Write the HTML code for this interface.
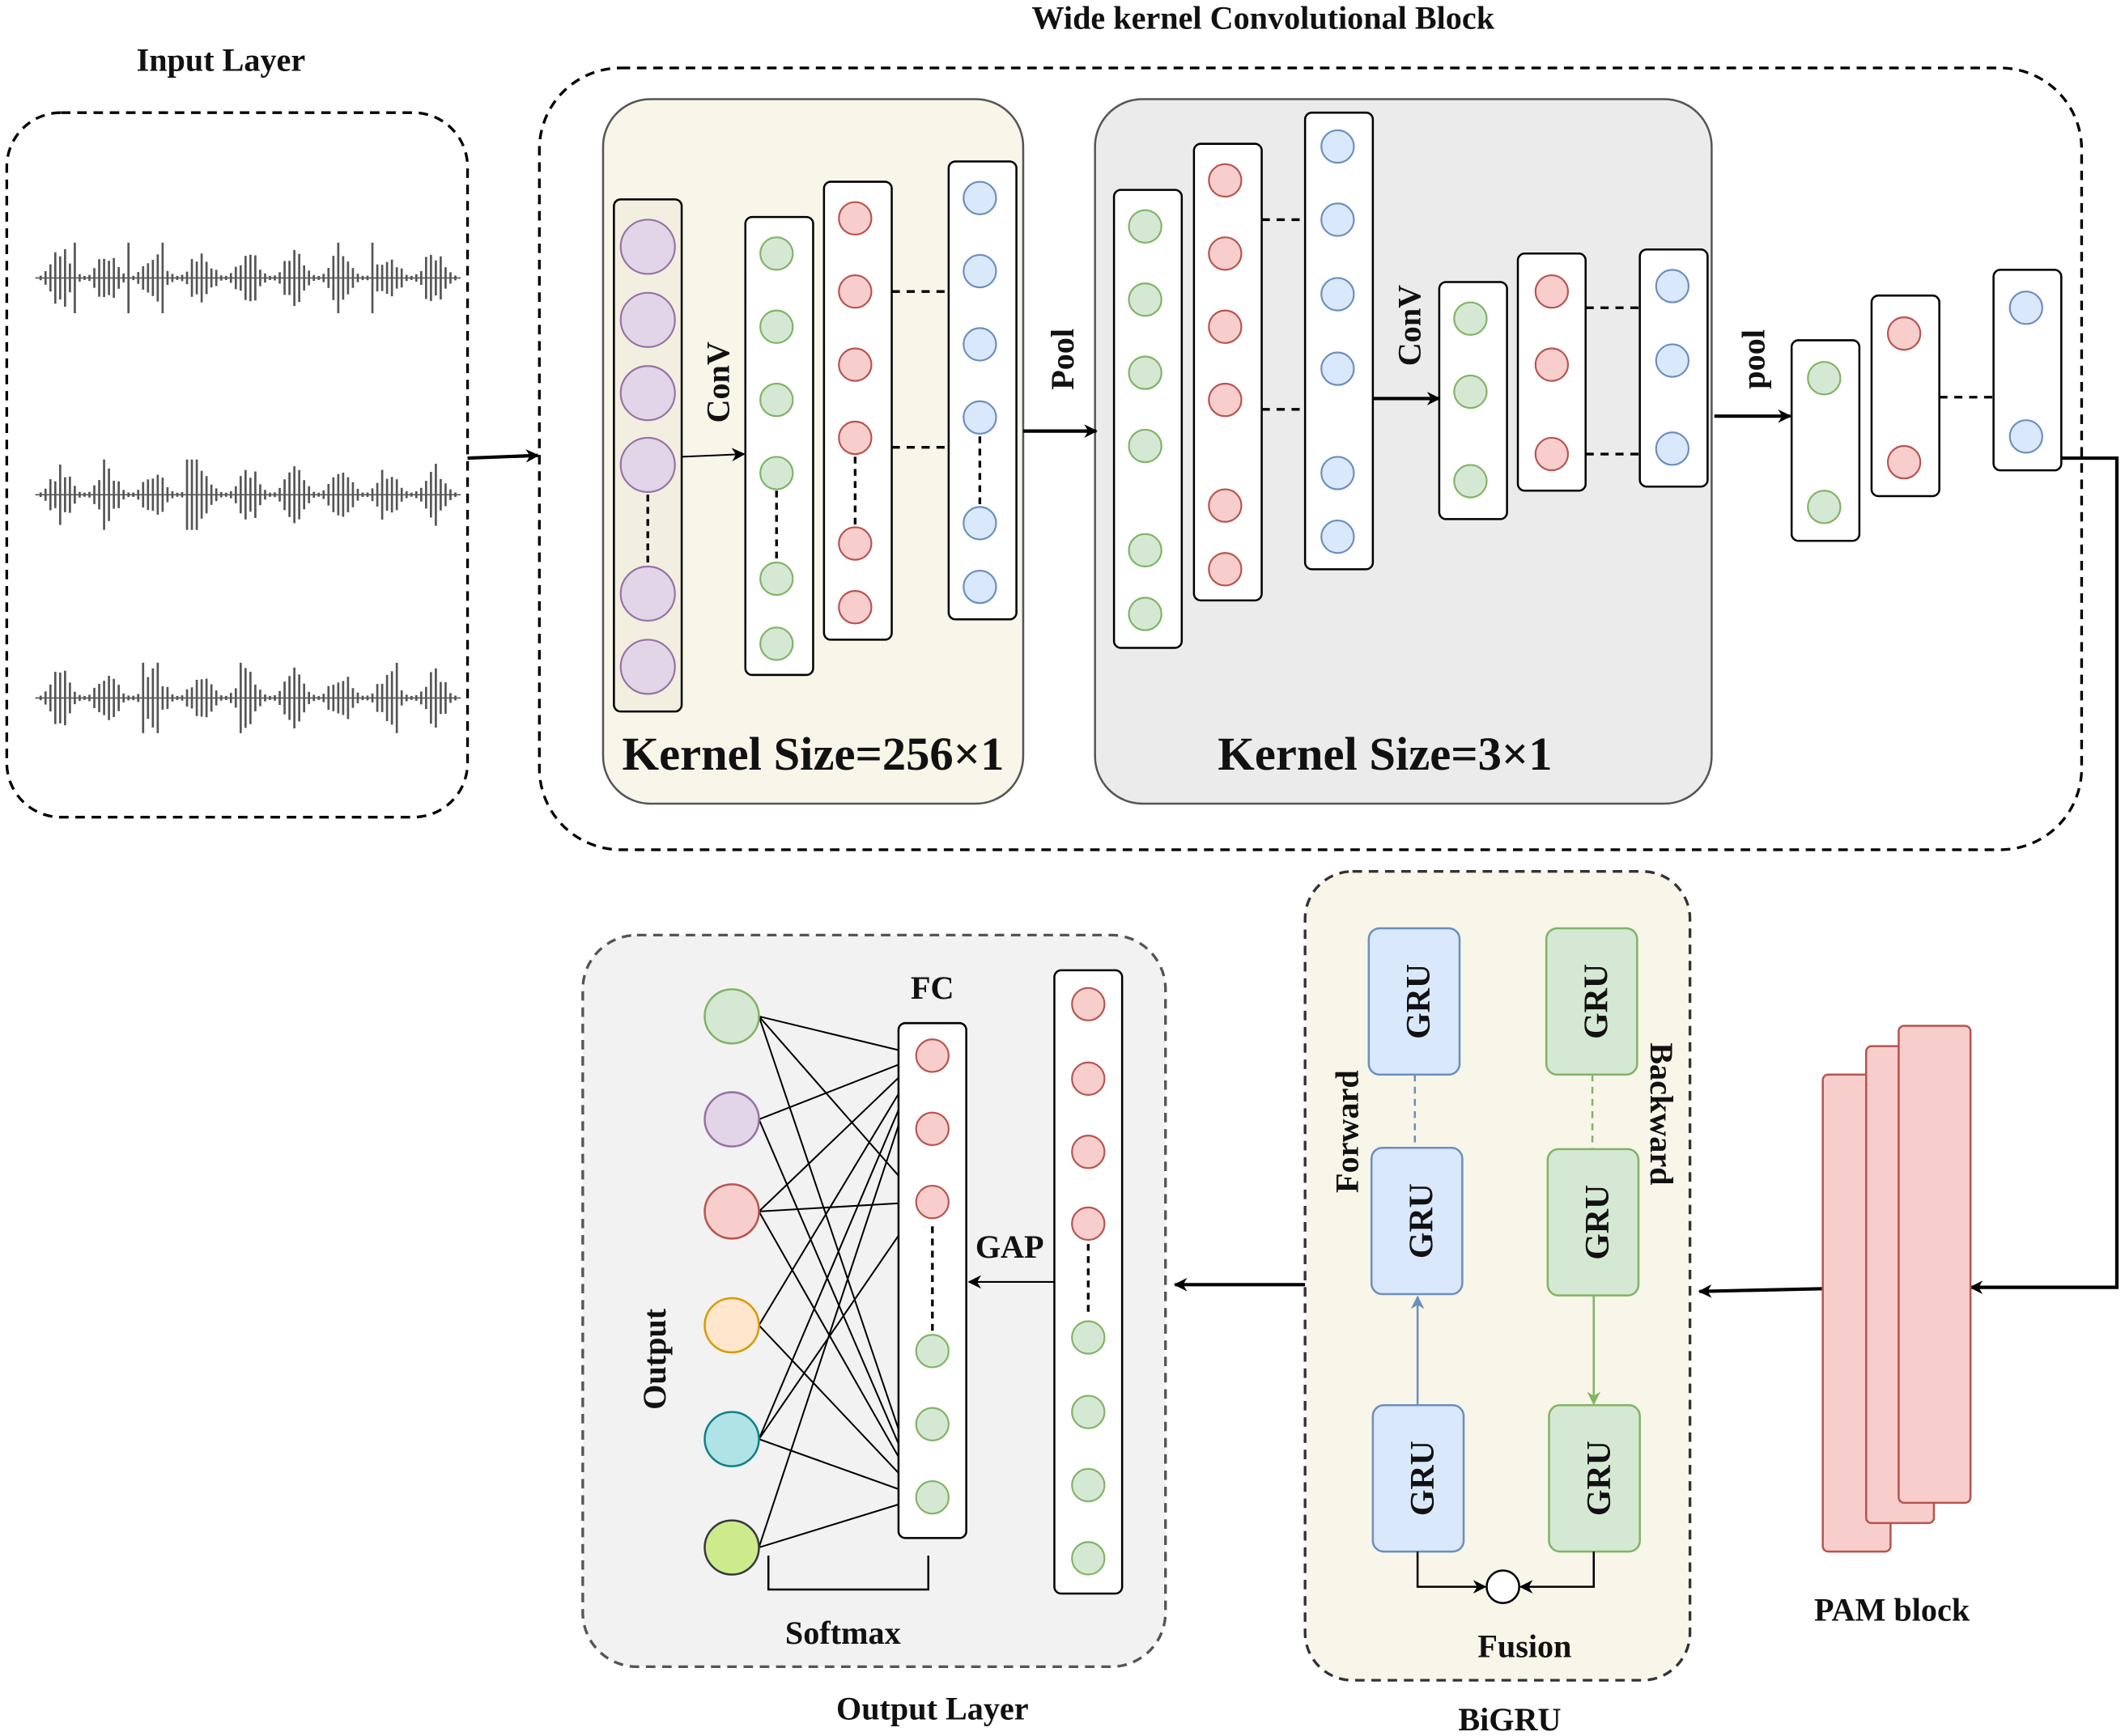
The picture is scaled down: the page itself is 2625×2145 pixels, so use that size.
<!DOCTYPE html>
<html><head><meta charset="utf-8"><style>
html,body{margin:0;padding:0;background:#fff;}
svg{display:block;}
text{font-family:"Liberation Serif",serif;font-weight:bold;fill:#111;}
</style></head><body>
<svg id="s" width="2625" height="2145" viewBox="0 0 1568 1281" xmlns="http://www.w3.org/2000/svg">
<defs>
<marker id="ar" markerWidth="10" markerHeight="10" refX="9" refY="5" orient="auto" markerUnits="userSpaceOnUse"><path d="M0,0 L10,5 L0,10 L3,5 z" fill="#000"/></marker>
<marker id="arb" markerWidth="10" markerHeight="10" refX="9" refY="5" orient="auto" markerUnits="userSpaceOnUse"><path d="M0,0 L10,5 L0,10 L3,5 z" fill="#6c8ebf"/></marker>
<marker id="arg" markerWidth="10" markerHeight="10" refX="9" refY="5" orient="auto" markerUnits="userSpaceOnUse"><path d="M0,0 L10,5 L0,10 L3,5 z" fill="#82b366"/></marker>
</defs>
<g fill="none" stroke="#000" stroke-width="2">
<rect x="5" y="83" width="340" height="520" rx="40" stroke-dasharray="7,5"/>
<rect x="398" y="50" width="1138" height="577" rx="60" stroke-dasharray="7,5"/>
</g>
<text x="163" y="52" font-size="24" text-anchor="middle">Input Layer</text>
<text x="932" y="21" font-size="24" text-anchor="middle">Wide kernel Convolutional Block</text>
<g id="waves" stroke="#555" stroke-width="1.6"></g>

<rect x="445" y="73" width="310" height="520" rx="35" fill="#f8f5e9" stroke="#555" stroke-width="1.5"/>
<rect x="808" y="73" width="455" height="520" rx="35" fill="#ebebeb" stroke="#555" stroke-width="1.5"/>
<g id="cols"></g>
<text x="600" y="568" font-size="35" text-anchor="middle">Kernel Size=256×1</text>
<text x="1022" y="568" font-size="35" text-anchor="middle">Kernel Size=3×1</text>
<text transform="translate(538,282) rotate(-90)" font-size="24" text-anchor="middle">ConV</text>
<text transform="translate(792,265) rotate(-90)" font-size="24" text-anchor="middle">Pool</text>
<text transform="translate(1048,240) rotate(-90)" font-size="24" text-anchor="middle">ConV</text>
<text transform="translate(1302,265) rotate(-90)" font-size="24" text-anchor="middle">pool</text>
<g stroke="#000" stroke-width="2" fill="none">
<line x1="503" y1="337" x2="549" y2="335" marker-end="url(#ar)" stroke-width="1.2"/>
<line x1="755" y1="318" x2="809" y2="318" marker-end="url(#ar)" stroke-width="2.5"/>
<line x1="1013" y1="294" x2="1062" y2="294" marker-end="url(#ar)" stroke-width="2.5"/>
<line x1="1265" y1="307" x2="1321" y2="307" marker-end="url(#ar)" stroke-width="2.5"/>
<line x1="345" y1="338" x2="397" y2="336" marker-end="url(#ar)" stroke-width="2.5"/>
<polyline points="1521,338 1562,338 1562,950 1454,950" marker-end="url(#ar)" stroke-width="2.5"/>
<line x1="1345" y1="951" x2="1254" y2="953" marker-end="url(#ar)" stroke-width="2.5"/>
<line x1="963" y1="948" x2="867" y2="948" marker-end="url(#ar)" stroke-width="2.5"/>
</g>
<g fill="#f8cecc" stroke="#b85450" stroke-width="1.5">
<rect x="1345" y="793" width="50" height="352" rx="4"/>
<rect x="1377" y="772" width="50" height="352" rx="4"/>
<rect x="1401" y="757" width="53" height="352" rx="4"/>
</g>
<text x="1396" y="1196" font-size="24" text-anchor="middle">PAM block</text>
<rect x="963" y="643" width="284" height="597" rx="35" fill="#f8f5e9" stroke="#333" stroke-width="2" stroke-dasharray="7,5"/>
<text x="1114" y="1277" font-size="24" text-anchor="middle">BiGRU</text>
<text x="1125" y="1223" font-size="24" text-anchor="middle">Fusion</text>
<g stroke-width="1.5">
<rect x="1010" y="685" width="67" height="108" rx="8" fill="#dae8fc" stroke="#6c8ebf"/>
<rect x="1012" y="847" width="67" height="108" rx="8" fill="#dae8fc" stroke="#6c8ebf"/>
<rect x="1013" y="1037" width="67" height="108" rx="8" fill="#dae8fc" stroke="#6c8ebf"/>
<rect x="1141" y="685" width="67" height="108" rx="8" fill="#d5e8d4" stroke="#82b366"/>
<rect x="1142" y="848" width="67" height="108" rx="8" fill="#d5e8d4" stroke="#82b366"/>
<rect x="1143" y="1037" width="67" height="108" rx="8" fill="#d5e8d4" stroke="#82b366"/>
<line x1="1044" y1="793" x2="1044" y2="847" stroke="#6c8ebf" stroke-dasharray="5,4"/>
<line x1="1175" y1="793" x2="1175" y2="848" stroke="#82b366" stroke-dasharray="5,4"/>
<line x1="1046" y1="1037" x2="1046" y2="957" stroke="#6c8ebf" marker-end="url(#arb)"/>
<line x1="1176" y1="956" x2="1176" y2="1036" stroke="#82b366" marker-end="url(#arg)"/>
<polyline points="1046,1145 1046,1171 1096,1171" fill="none" stroke="#000" marker-end="url(#ar)"/>
<polyline points="1176,1145 1176,1171 1122,1171" fill="none" stroke="#000" marker-end="url(#ar)"/>
<circle cx="1109" cy="1171" r="12" fill="#fff" stroke="#000"/>
</g>
<g font-size="25">
<text transform="translate(1055,739) rotate(-90)" text-anchor="middle">GRU</text>
<text transform="translate(1057,901) rotate(-90)" text-anchor="middle">GRU</text>
<text transform="translate(1058,1091) rotate(-90)" text-anchor="middle">GRU</text>
<text transform="translate(1186,739) rotate(-90)" text-anchor="middle">GRU</text>
<text transform="translate(1187,902) rotate(-90)" text-anchor="middle">GRU</text>
<text transform="translate(1188,1091) rotate(-90)" text-anchor="middle">GRU</text>
</g>
<text transform="translate(1002,835) rotate(-90)" font-size="24" text-anchor="middle">Forward</text>
<text transform="translate(1218,822) rotate(90)" font-size="24" text-anchor="middle">Backward</text>
<rect x="430" y="690" width="430" height="540" rx="40" fill="#f2f2f2" stroke="#555" stroke-width="2" stroke-dasharray="7,5"/>
<text x="688" y="1269" font-size="24" text-anchor="middle">Output Layer</text>
<text x="688" y="737" font-size="24" text-anchor="middle">FC</text>
<text x="745" y="928" font-size="24" text-anchor="middle">GAP</text>
<text x="622" y="1213" font-size="24" text-anchor="middle">Softmax</text>
<text transform="translate(491,1003) rotate(-90)" font-size="24" text-anchor="middle">Output</text>
<g id="outg"></g>
<line x1="778" y1="946" x2="715" y2="946" stroke="#000" stroke-width="1.2" marker-end="url(#ar)"/>
<polyline points="567,1148 567,1173 685,1173 685,1148" fill="none" stroke="#000" stroke-width="1.5"/>
</svg>
<script>
var NS="http://www.w3.org/2000/svg";
function el(p,t,a){var e=document.createElementNS(NS,t);for(var k in a)e.setAttribute(k,a[k]);p.appendChild(e);return e;}
var C={p:["#e1d5e7","#9673a6"],g:["#d5e8d4","#82b366"],r:["#f8cecc","#b85450"],b:["#dae8fc","#6c8ebf"]};
var W=document.getElementById("waves");
var seed=3;function rnd(){seed=(seed*9301+49297)%233280;return seed/233280;}
[205,365,515].forEach(function(y){
 el(W,"line",{x1:26,y1:y,x2:340,y2:y,"stroke-width":1});
 for(var x=30;x<338;x+=3.6){
  var t=(x-28)/310;
  var s=Math.abs(Math.sin(t*Math.PI*9));
  var env=Math.pow(s,2.5);
  var h=1.5+env*20*(0.5+rnd()*0.6);
  if(rnd()<0.05)h=26;
  el(W,"line",{x1:x,y1:y-h,x2:x,y2:y+h});
 }
});
var G=document.getElementById("cols");
function col(x,y,w,h,cx,cys,c,r,dash){
 el(G,"rect",{x:x,y:y,width:w,height:h,rx:5,fill:c=="p"?"#f3efe0":"#fff",stroke:"#000","stroke-width":1.5});
 if(dash)el(G,"line",{x1:cx,y1:dash[0],x2:cx,y2:dash[1],stroke:"#000","stroke-width":2,"stroke-dasharray":"5,4"});
 cys.forEach(function(cy){el(G,"circle",{cx:cx,cy:cy,r:r,fill:C[c][0],stroke:C[c][1],"stroke-width":1.3});});
}
function dl(x1,x2,y){el(G,"line",{x1:x1,y1:y,x2:x2,y2:y,stroke:"#000","stroke-width":2,"stroke-dasharray":"6,5"});}
col(453,147,50,378,478,[182,236,290,343,438,492],"p",20,[365,418]);
col(550,160,50,338,573,[187,241,295,349,427,475],"g",12,[362,414]);
col(608,134,50,338,631,[161,215,269,323,401,448],"r",12,[337,389]);
col(700,119,50,338,723,[146,200,254,308,386,433],"b",12,[322,374]);
dl(658,700,215);dl(658,700,330);
col(822,140,50,338,845,[167,221,275,329,406,453],"g",12);
col(881,106,50,337,904,[133,187,241,295,373,420],"r",12);
col(963,83,50,337,987,[108,162,217,272,349,396],"b",12);
dl(931,963,162);dl(931,963,302);
col(1062,208,50,175,1085,[235,289,355],"g",12);
col(1120,187,50,175,1145,[215,269,335],"r",12);
col(1210,184,50,175,1234,[211,266,331],"b",12);
dl(1170,1210,227);dl(1170,1210,335);
col(1322,251,50,148,1346,[279,374],"g",12);
col(1381,218,50,148,1405,[246,341],"r",12);
col(1471,199,50,148,1495,[227,322],"b",12);
dl(1431,1471,293);
G=document.getElementById("outg");
var oc=[[750,"#d5e8d4","#82b366"],[826,"#e1d5e7","#9673a6"],[894,"#f8cecc","#b85450"],[978,"#ffe6cc","#d79b00"],[1062,"#b0e3e6","#0e8088"],[1142,"#cdeb8b","#36393d"]];
oc.forEach(function(o,i){
 [779,1105].forEach(function(t){el(G,"line",{x1:560,y1:o[0],x2:680,y2:t,stroke:"#000","stroke-width":1.2});});
 if(i%2==0)el(G,"line",{x1:560,y1:o[0],x2:680,y2:887,stroke:"#000","stroke-width":1.2});
});
col(663,755,50,380,688,[779,833,887],"r",12,[905,985]);
[997,1051,1105].forEach(function(cy){el(G,"circle",{cx:688,cy:cy,r:12,fill:C.g[0],stroke:C.g[1],"stroke-width":1.3});});
col(778,716,50,460,803,[741,796,850,903],"r",12,[918,972]);
[987,1042,1096,1150].forEach(function(cy){el(G,"circle",{cx:803,cy:cy,r:12,fill:C.g[0],stroke:C.g[1],"stroke-width":1.3});});
oc.forEach(function(o){el(G,"circle",{cx:540,cy:o[0],r:20,fill:o[1],stroke:o[2],"stroke-width":1.5});});
</script>
</body></html>
